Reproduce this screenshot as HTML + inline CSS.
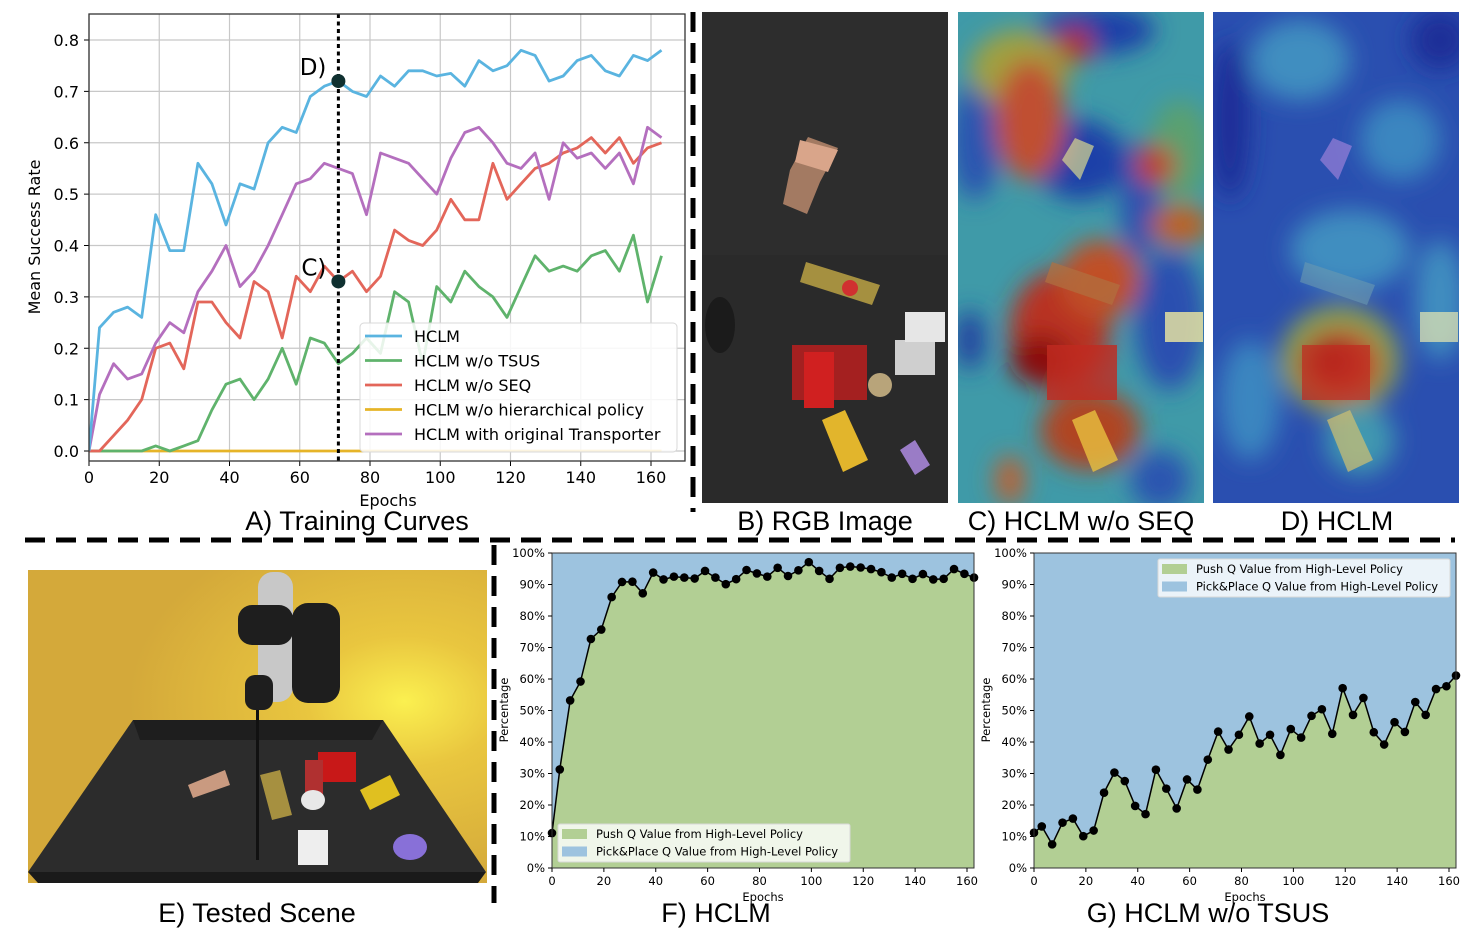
<!DOCTYPE html>
<html><head><meta charset="utf-8"><style>
html,body{margin:0;padding:0;background:#fff;}
svg{display:block;font-family:"DejaVu Sans","Liberation Sans",sans-serif;}
.cap{font-family:"Liberation Sans","DejaVu Sans",sans-serif;}
</style></head><body>
<svg id="fig" width="1478" height="948" viewBox="0 0 1478 948" xmlns="http://www.w3.org/2000/svg">
<defs>
<filter id="blur12" x="-50%" y="-50%" width="200%" height="200%"><feGaussianBlur stdDeviation="12"/></filter>
<radialGradient id="sceneBg" cx="0.82" cy="0.42" r="0.6"><stop offset="0" stop-color="#fbf050"/><stop offset="0.35" stop-color="#e9c63f"/><stop offset="1" stop-color="#d4a93a"/></radialGradient>
<clipPath id="clipC"><rect x="958" y="12" width="246" height="491"/></clipPath>
<clipPath id="clipD"><rect x="1213" y="12" width="246" height="491"/></clipPath>
<clipPath id="clipA"><rect x="89" y="14" width="596" height="447"/></clipPath>
</defs>

<g>
<rect x="702" y="12" width="246" height="491" fill="#2d2d2d"/>
<rect x="702" y="255" width="246" height="248" fill="#2a2a2a"/>
<polygon points="790,170 808,137 838,148 820,182 807,214 783,204" fill="#a37a62"/>
<polygon points="800,140 838,150 828,172 795,162" fill="#d9a58a"/>
<polygon points="806,262 880,285 872,305 800,282" fill="#a59040"/>
<circle cx="850" cy="288" r="8" fill="#d03030"/>
<rect x="792" y="345" width="75" height="55" fill="#a42020"/>
<rect x="804" y="352" width="30" height="56" fill="#d02020"/>
<circle cx="880" cy="385" r="12" fill="#b8a47a"/>
<rect x="895" y="340" width="40" height="35" fill="#cfcfcf"/>
<rect x="905" y="312" width="40" height="30" fill="#e6e6e6"/>
<polygon points="822,420 845,410 868,460 843,472" fill="#e2b52c"/>
<polygon points="900,450 915,440 930,465 915,475" fill="#9a7cc6"/>
<ellipse cx="720" cy="325" rx="15" ry="28" fill="#1b1b1b"/>
</g>

<g clip-path="url(#clipC)">
<rect x="958" y="12" width="246" height="491" fill="#3f9aa8"/>
<g filter="url(#blur12)">
<ellipse cx="975" cy="140" rx="25" ry="60" fill="#2a55b0"/>
<ellipse cx="1180" cy="150" rx="30" ry="50" fill="#5aa070"/>
<ellipse cx="1170" cy="320" rx="35" ry="70" fill="#2b50b0"/>
<ellipse cx="1095" cy="30" rx="60" ry="25" fill="#1f3fa8"/>
<ellipse cx="1080" cy="160" rx="45" ry="40" fill="#1f3fa8"/>
<ellipse cx="1140" cy="200" rx="20" ry="60" fill="#2b50b0"/>
<ellipse cx="1020" cy="70" rx="50" ry="40" fill="#a0a040"/>
<ellipse cx="1030" cy="120" rx="35" ry="60" fill="#c05030"/>
<ellipse cx="1075" cy="45" rx="18" ry="18" fill="#b03020"/>
<ellipse cx="1155" cy="165" rx="20" ry="20" fill="#c04020"/>
<ellipse cx="1180" cy="225" rx="30" ry="20" fill="#c06020"/>
<ellipse cx="1060" cy="330" rx="50" ry="60" fill="#b83020"/>
<ellipse cx="1040" cy="360" rx="30" ry="25" fill="#8a1010"/>
<ellipse cx="1100" cy="280" rx="40" ry="40" fill="#c05028"/>
<ellipse cx="1090" cy="430" rx="50" ry="40" fill="#b04520"/>
<ellipse cx="970" cy="340" rx="15" ry="30" fill="#2040a0"/>
<ellipse cx="1160" cy="480" rx="30" ry="30" fill="#2a55b0"/>
<ellipse cx="1010" cy="480" rx="15" ry="25" fill="#c06030"/>
</g>
<polygon points="1062,160 1075,138 1094,146 1080,180" fill="#d8d890" opacity="0.7"/>
<polygon points="1052,262 1120,285 1112,305 1045,282" fill="#b07040" opacity="0.7"/>
<rect x="1047" y="345" width="70" height="55" fill="#c02a20" opacity="0.8"/>
<polygon points="1072,420 1095,410 1118,460 1093,472" fill="#e8c040" opacity="0.8"/>
<rect x="1165" y="312" width="38" height="30" fill="#f0e8a0" opacity="0.8"/>
</g>

<g clip-path="url(#clipD)">
<rect x="1213" y="12" width="246" height="491" fill="#2a4fb0"/>
<g filter="url(#blur12)">
<ellipse cx="1300" cy="60" rx="50" ry="40" fill="#3f8ec0"/>
<ellipse cx="1400" cy="140" rx="40" ry="40" fill="#3a86c0"/>
<ellipse cx="1350" cy="250" rx="60" ry="40" fill="#3f8ec0"/>
<ellipse cx="1250" cy="400" rx="30" ry="60" fill="#3a86c0"/>
<ellipse cx="1440" cy="300" rx="25" ry="60" fill="#3f8ec0"/>
<ellipse cx="1230" cy="120" rx="20" ry="80" fill="#1c2f98"/>
<ellipse cx="1440" cy="40" rx="30" ry="30" fill="#1c2f98"/>
<ellipse cx="1340" cy="360" rx="60" ry="55" fill="#8ca050"/>
<ellipse cx="1340" cy="365" rx="40" ry="35" fill="#c0402a"/>
<ellipse cx="1330" cy="360" rx="22" ry="20" fill="#a01a18"/>
<ellipse cx="1360" cy="440" rx="35" ry="35" fill="#3f98b0"/>
</g>
<polygon points="1320,160 1333,138 1352,146 1338,180" fill="#9a80d8" opacity="0.7"/>
<polygon points="1305,262 1375,285 1367,305 1300,282" fill="#6a9ab0" opacity="0.6"/>
<rect x="1302" y="345" width="68" height="55" fill="#c02a20" opacity="0.7"/>
<polygon points="1327,420 1350,410 1373,460 1348,472" fill="#d0c070" opacity="0.7"/>
<rect x="1420" y="312" width="38" height="30" fill="#e8e8b0" opacity="0.7"/>
</g>

<g>
<rect x="28" y="570" width="459" height="313" fill="url(#sceneBg)"/>
<polygon points="133,720 383,720 486,872 28,872" fill="#2c2c2c"/>
<polygon points="133,720 383,720 372,740 140,740" fill="#1e1e1e"/>
<polygon points="28,872 486,872 478,883 38,883" fill="#1a1a1a"/>
<rect x="258" y="572" width="35" height="130" rx="15" fill="#c8c8c8"/>
<rect x="238" y="605" width="55" height="40" rx="14" fill="#1e1e1e"/>
<rect x="292" y="603" width="48" height="100" rx="16" fill="#1e1e1e"/>
<rect x="245" y="675" width="28" height="35" rx="10" fill="#1e1e1e"/>
<rect x="256" y="710" width="3" height="150" fill="#111"/>
<polygon points="188,785 225,770 230,785 193,798" fill="#c99a80"/>
<polygon points="260,775 280,770 292,815 272,820" fill="#a69040"/>
<rect x="318" y="752" width="38" height="30" fill="#c81818"/>
<rect x="305" y="760" width="18" height="45" fill="#b03030"/>
<polygon points="360,790 390,775 400,795 370,810" fill="#e0c020"/>
<rect x="298" y="830" width="30" height="35" fill="#eeeeee"/>
<ellipse cx="410" cy="847" rx="17" ry="13" fill="#8870d8"/>
<ellipse cx="313" cy="800" rx="12" ry="10" fill="#e8e8e8"/>
</g>

<line x1="693" y1="12" x2="693" y2="512" stroke="#000" stroke-width="5" stroke-dasharray="20,11"/>
<line x1="25" y1="540" x2="1455" y2="540" stroke="#000" stroke-width="5" stroke-dasharray="20,11"/>
<line x1="494" y1="545" x2="494" y2="903" stroke="#000" stroke-width="5" stroke-dasharray="20,11"/>

<g class="cap" font-size="27" fill="#000" text-anchor="middle">
<text x="357" y="530">A) Training Curves</text>
<text x="825" y="530">B) RGB Image</text>
<text x="1081" y="530">C) HCLM w/o SEQ</text>
<text x="1337" y="530">D) HCLM</text>
<text x="257" y="922">E) Tested Scene</text>
<text x="716" y="922">F) HCLM</text>
<text x="1208" y="922">G) HCLM w/o TSUS</text>
</g>

<g id="chartA"></g>
<g id="chartF"></g>
<g id="chartG"></g>
</svg>
<script>
const epochs = [0,3,7,11,15,19,23,27,31,35,39,43,47,51,55,59,63,67,71,75,79,83,87,91,95,99,103,107,111,115,119,123,127,131,135,139,143,147,151,155,159,163];
const hclm = [0,0.24,0.27,0.28,0.26,0.46,0.39,0.39,0.56,0.52,0.44,0.52,0.51,0.60,0.63,0.62,0.69,0.71,0.72,0.70,0.69,0.73,0.71,0.74,0.74,0.73,0.735,0.71,0.76,0.74,0.75,0.78,0.77,0.72,0.73,0.76,0.77,0.74,0.73,0.77,0.76,0.78];
const woTsus = [0,0,0,0,0,0.01,0,0.01,0.02,0.08,0.13,0.14,0.10,0.14,0.20,0.13,0.22,0.21,0.17,0.19,0.22,0.19,0.31,0.29,0.17,0.32,0.29,0.35,0.32,0.30,0.26,0.32,0.38,0.35,0.36,0.35,0.38,0.39,0.35,0.42,0.29,0.38];
const woSeq = [0,0,0.03,0.06,0.10,0.20,0.21,0.16,0.29,0.29,0.25,0.22,0.33,0.31,0.22,0.34,0.31,0.36,0.33,0.35,0.31,0.34,0.43,0.41,0.40,0.43,0.49,0.45,0.45,0.56,0.49,0.52,0.55,0.56,0.58,0.59,0.61,0.58,0.61,0.56,0.59,0.60];
const woHier = [0,0,0,0,0,0,0,0,0,0,0,0,0,0,0,0,0,0,0,0,0,0,0,0,0,0,0,0,0,0,0,0,0,0,0,0,0,0,0,0,0,0];
const origTransporter = [0,0.11,0.17,0.14,0.15,0.21,0.25,0.23,0.31,0.35,0.40,0.32,0.35,0.40,0.46,0.52,0.53,0.56,0.55,0.54,0.46,0.58,0.57,0.56,0.53,0.50,0.57,0.62,0.63,0.60,0.56,0.55,0.58,0.49,0.60,0.57,0.58,0.55,0.58,0.52,0.63,0.61];
const seriesNames = ["HCLM","HCLM w/o TSUS","HCLM w/o SEQ","HCLM w/o hierarchical policy","HCLM with original Transporter"];
const markerEpoch = 71;
const markerVals = [0.72, 0.33];
const markerLabels = ["D)", "C)"];
const xTicksA = [0,20,40,60,80,100,120,140,160];
const yTicksA = [0,0.1,0.2,0.3,0.4,0.5,0.6,0.7,0.8];
const pushF = [11.1,31.3,53.2,59.2,72.7,75.7,86,90.8,90.9,87.2,93.8,91.6,92.5,92.2,91.9,94.3,92.2,90.1,91.7,94.6,93.5,92.5,95.3,92.7,94.5,97.1,94.3,91.8,95.3,95.7,95.4,94.9,93.9,92.2,93.4,91.8,93.3,91.6,91.8,94.9,93.4,92.2];
const pushG = [11.2,13.2,7.5,14.4,15.7,10.1,11.9,23.9,30.3,27.6,19.7,17.1,31.2,25.2,18.9,28.1,24.9,34.4,43.3,37.6,42.3,48.1,39.5,42.3,35.9,44.1,41.4,48.3,50.4,42.6,57.1,48.6,54,43.1,39.2,46.3,43.2,52.7,48.6,56.8,57.7,61.1];
const xTicksQ = [0,20,40,60,80,100,120,140,160];
const yTicksQ = [0,10,20,30,40,50,60,70,80,90,100];
const legendQ = ["Push Q Value from High-Level Policy","Pick&Place Q Value from High-Level Policy"];

const NS = "http://www.w3.org/2000/svg";
function mk(tag, attrs, parent){const e=document.createElementNS(NS,tag);for(const k in attrs)e.setAttribute(k,attrs[k]);parent.appendChild(e);return e;}

(function(){
  const g=document.getElementById('chartA');
  const L=89,R=685,T=14,B=461;
  const xs=v=>89+v*(562/160);
  const ys=v=>451-v*513.75;
  for(const t of xTicksA){
    const l=mk('line',{x1:xs(t),x2:xs(t),y1:T,y2:B,stroke:'#c8c8c8','stroke-width':1.2},g);
    
    
    mk('line',{x1:xs(t),x2:xs(t),y1:B,y2:B+5,stroke:'#000','stroke-width':1},g);
    const tx=mk('text',{x:xs(t),y:B+22,'font-size':16,'text-anchor':'middle'},g);tx.textContent=t;
    
    
  }
  for(const t of yTicksA){
    const l=mk('line',{x1:L,x2:R,y1:ys(t),y2:ys(t),stroke:'#c8c8c8','stroke-width':1.2},g);
    
    
    mk('line',{x1:L-5,x2:L,y1:ys(t),y2:ys(t),stroke:'#000','stroke-width':1},g);
    const tx=mk('text',{x:L-10,y:ys(t)+6,'font-size':16,'text-anchor':'end'},g);tx.textContent=t.toFixed(1);
    
    
  }
  const colors=['#5ab4e0','#5fb36c','#e3665a','#e6b428','#b46fbe'];
  const data=[hclm,woTsus,woSeq,woHier,origTransporter];
  const cg=mk('g',{'clip-path':'url(#clipA)'},g);
  const order=[3,1,2,4,0];
  for(const i of order){
    const pts=epochs.map((e,j)=>xs(e).toFixed(1)+','+ys(data[i][j]).toFixed(1)).join(' ');
    const p=mk('polyline',{points:pts,fill:'none',stroke:colors[i],'stroke-width':2.8,'stroke-linejoin':'round'},cg);
    
    
  }
  const vl=mk('line',{x1:xs(markerEpoch),x2:xs(markerEpoch),y1:T,y2:B,stroke:'#000','stroke-width':3,'stroke-dasharray':'4,3.5'},g);
  
  
  markerVals.forEach((v,i)=>{
    const c=mk('circle',{cx:xs(markerEpoch),cy:ys(v),r:7,fill:'#0f3030'},g);
    
    
    const t=mk('text',{x:xs(markerEpoch)-12,y:ys(v)-6,'font-size':23,'text-anchor':'end'},g);t.textContent=markerLabels[i];
    
    
  });
  const fr=mk('rect',{x:L,y:T,width:R-L,height:B-T,fill:'none',stroke:'#333','stroke-width':1.3},g);
  
  
  const lg=mk('g',{},g);
  
  
  mk('rect',{x:360,y:323,width:317,height:129,rx:4,fill:'#fff','fill-opacity':0.85,stroke:'#d8d8d8'},lg);
  seriesNames.forEach((n,i)=>{
    const y=336+i*24.5;
    mk('line',{x1:365,x2:402,y1:y,y2:y,stroke:colors[i],'stroke-width':2.8},lg);
    const t=mk('text',{x:414,y:y+6,'font-size':16},lg);t.textContent=n;
    
    
  });
  const xt=mk('text',{x:388,y:506,'font-size':16,'text-anchor':'middle'},g);xt.textContent='Epochs';
  
  
  const yt=mk('text',{x:0,y:0,'font-size':16,'text-anchor':'middle',transform:'translate(40,237) rotate(-90)'},g);yt.textContent='Mean Success Rate';
  
  
})();

function areaChart(id,L,R,vals,legendX,legendY){
  const g=document.getElementById(id);
  const T=553,B=868;
  const xs=v=>L+v*((R-L-7)/160);
  const ys=v=>B-v*(B-T)/100;
  const bg=mk('rect',{x:L,y:T,width:R-L,height:B-T,fill:'#9dc3df'},g);
  
  
  const top=epochs.map((e,j)=>Math.min(xs(e),R).toFixed(1)+','+ys(vals[j]).toFixed(1));
  const ar=mk('polygon',{points:L+','+B+' '+top.join(' ')+' '+R+','+ys(vals[vals.length-1]).toFixed(1)+' '+R+','+B,fill:'#b2cf94'},g);
  
  
  const ln=mk('polyline',{points:top.join(' '),fill:'none',stroke:'#000','stroke-width':1.5},g);
  
  
  epochs.forEach((e,j)=>{
    const c=mk('circle',{cx:Math.min(xs(e),R),cy:ys(vals[j]),r:4.3,fill:'#000'},g);
    
    
  });
  const fr=mk('rect',{x:L,y:T,width:R-L,height:B-T,fill:'none',stroke:'#333','stroke-width':1},g);
  
  
  for(const t of xTicksQ){
    mk('line',{x1:xs(t),x2:xs(t),y1:B,y2:B+4,stroke:'#000'},g);
    const tx=mk('text',{x:xs(t),y:B+17,'font-size':11.5,'text-anchor':'middle'},g);tx.textContent=t;
    
    
  }
  for(const t of yTicksQ){
    mk('line',{x1:L-4,x2:L,y1:ys(t),y2:ys(t),stroke:'#000'},g);
    const tx=mk('text',{x:L-7,y:ys(t)+4,'font-size':11.5,'text-anchor':'end'},g);tx.textContent=t+'%';
    
    
  }
  const xt=mk('text',{x:(L+R)/2,y:901,'font-size':11.5,'text-anchor':'middle'},g);xt.textContent='Epochs';
  
  
  const yt=mk('text',{x:0,y:0,'font-size':11.5,'text-anchor':'middle',transform:'translate('+(L-44)+',710) rotate(-90)'},g);yt.textContent='Percentage';
  
  
  const lg=mk('g',{},g);
  
  
  mk('rect',{x:legendX,y:legendY,width:292,height:38,rx:2,fill:'#fff','fill-opacity':0.8,stroke:'#d8d8d8'},lg);
  const sw=['#b2cf94','#9dc3df'];
  legendQ.forEach((n,i)=>{
    mk('rect',{x:legendX+4,y:legendY+5+i*17.5,width:25,height:10,fill:sw[i]},lg);
    const t=mk('text',{x:legendX+38,y:legendY+14+i*17.5,'font-size':11.5},lg);t.textContent=n;
    
    
  });
}
areaChart('chartF',552,974,pushF,558,824);
areaChart('chartG',1034,1456,pushG,1158,559);
</script>
</body></html>
